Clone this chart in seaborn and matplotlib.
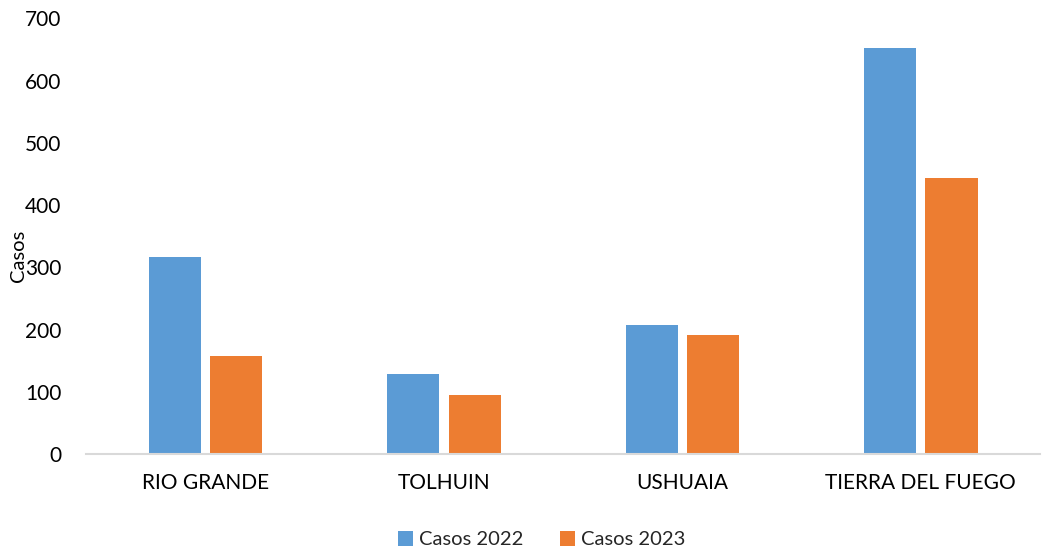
import pandas as pd
import matplotlib
matplotlib.use('Agg')
import matplotlib.pyplot as plt
import seaborn as sns

# Datos
localidades = ['RIO GRANDE', 'TOLHUIN', 'USHUAIA', 'TIERRA DEL FUEGO']
casos_2022 = [317, 129, 207, 653]
casos_2023 = [158, 95, 191, 444]
series = ['Casos 2022', 'Casos 2023']
colores = ['#5B9BD5', '#ED7D31']

data = pd.DataFrame({
    'Localidad': localidades * 2,
    'Casos': casos_2022 + casos_2023,
    'Serie': [series[0]] * 4 + [series[1]] * 4,
})

sns.set_theme(style='white')
plt.rcParams['font.family'] = ['Lato', 'DejaVu Sans']

fig = plt.figure(figsize=(10.42, 5.53), dpi=100)
ax = fig.add_axes([0.083, 0.179, 0.915, 0.788])

sns.barplot(data=data, x='Localidad', y='Casos', hue='Serie',
            palette=colores, saturation=1, width=0.515, gap=0.15,
            linewidth=0, ax=ax, legend=True)

ax.set_ylim(0, 700)
ax.set_yticks(range(0, 701, 100))
ax.set_xlim(-0.5, 3.5)
ax.set_xlabel('')
ax.set_ylabel('Casos', fontsize=14.5, color='black')
ax.yaxis.set_label_coords(-0.062, 0.454)
ax.tick_params(axis='both', labelsize=15, colors='black', length=0)
ax.tick_params(axis='x', pad=14)
ax.tick_params(axis='y', pad=18)

for side in ['top', 'right', 'left']:
    ax.spines[side].set_visible(False)
ax.spines['bottom'].set_color('#D9D9D9')
ax.spines['bottom'].set_linewidth(1.5)

handles, labels = ax.get_legend_handles_labels()
ax.legend_.remove()
fig.legend(handles, labels, loc='center', bbox_to_anchor=(0.52, 0.024), ncol=2,
           frameon=False, fontsize=14.5, handlelength=0.75, handleheight=0.75,
           columnspacing=1.8, handletextpad=0.3)

fig.savefig('out.png', dpi=100)
